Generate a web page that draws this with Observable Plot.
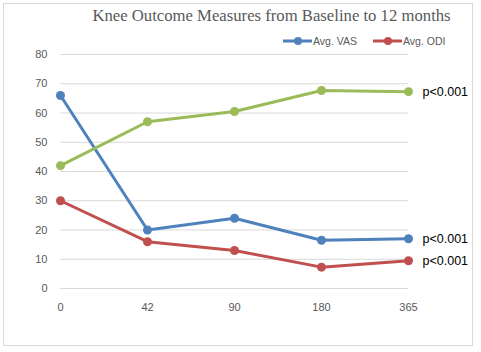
<!DOCTYPE html>
<html><head><meta charset="utf-8">
<script src="https://cdn.jsdelivr.net/npm/d3@7"></script>
<script src="https://cdn.jsdelivr.net/npm/@observablehq/plot@0.6"></script>
<style>
html,body{margin:0;padding:0;background:#fff;}
#wrap{position:relative;width:481px;height:352px;overflow:hidden;}
#border{position:absolute;left:3px;top:3px;width:470px;height:343px;border:1px solid #D9D9D9;box-sizing:border-box;}
#title{position:absolute;left:0;top:6px;width:543px;text-align:center;font-family:"Liberation Serif",serif;font-size:16.7px;color:#595959;}
#legend{position:absolute;left:0;top:0;}
#chart{position:absolute;left:0;top:0;}
</style></head>
<body>
<div id="wrap">
<div id="border"></div>
<div id="chart"></div>
<div id="title">Knee Outcome Measures from Baseline to 12 months</div>
<svg id="legend" width="481" height="60"></svg>
</div>
<script>
const days = ["0", "42", "90", "180", "365"];
const vas = [66, 20, 24, 16.5, 17];
const odi = [30, 16, 13, 7.3, 9.5];
const third = [42, 57, 60.5, 67.7, 67.3];
const pLabels = ["p<0.001", "p<0.001", "p<0.001"];
const yTicks = [0, 10, 20, 30, 40, 50, 60, 70, 80];
const seriesNames = ["Avg. VAS", "Avg. ODI", "Third"];
const colors = ["#4F81BD", "#C0504D", "#9BBB59"];

const rows = [];
[vas, odi, third].forEach((arr, si) => arr.forEach((v, i) => rows.push({day: days[i], value: v, series: seriesNames[si]})));
const last = [vas, odi, third].map((arr, si) => ({day: days[days.length - 1], value: arr[arr.length - 1], label: pLabels[si]}));

const chart = Plot.plot({
  width: 481, height: 352,
  marginTop: 54, marginBottom: 64, marginLeft: 60, marginRight: 73,
  style: {fontFamily: "Liberation Sans, sans-serif", fontSize: "11px", background: "transparent", overflow: "visible"},
  x: {type: "point", domain: days, padding: 0},
  y: {domain: [0, 80]},
  color: {domain: seriesNames, range: colors},
  marks: [
    Plot.gridY(yTicks, {stroke: "#D9D9D9", strokeOpacity: 1, strokeWidth: 1}),
    Plot.axisY(yTicks, {tickSize: 0, tickPadding: 13, fill: "#595959", label: null}),
    Plot.axisX(days, {tickSize: 0, tickPadding: 15, fill: "#595959", label: null}),
    Plot.line(rows, {x: "day", y: "value", z: "series", stroke: "series", strokeWidth: 3}),
    Plot.dot(rows, {x: "day", y: "value", fill: "series", r: 4.5}),
    Plot.text(last, {x: "day", y: "value", text: "label", dx: 14, textAnchor: "start", fill: "#000", fontSize: 12.5})
  ]
});
document.getElementById("chart").appendChild(chart);

// legend (first two series only, as in the reference)
const leg = d3.select("#legend");
const legItems = [{name: seriesNames[0], color: colors[0], x: 283}, {name: seriesNames[1], color: colors[1], x: 373}];
legItems.forEach(it => {
  leg.append("line").attr("x1", it.x).attr("x2", it.x + 29).attr("y1", 41).attr("y2", 41).attr("stroke", it.color).attr("stroke-width", 3);
  leg.append("circle").attr("cx", it.x + 15).attr("cy", 41).attr("r", 4).attr("fill", it.color);
  leg.append("text").attr("x", it.x + 30).attr("y", 45).text(it.name)
    .attr("font-family", "Liberation Sans, sans-serif").attr("font-size", 10.5).attr("fill", "#595959");
});
</script>
</body></html>
